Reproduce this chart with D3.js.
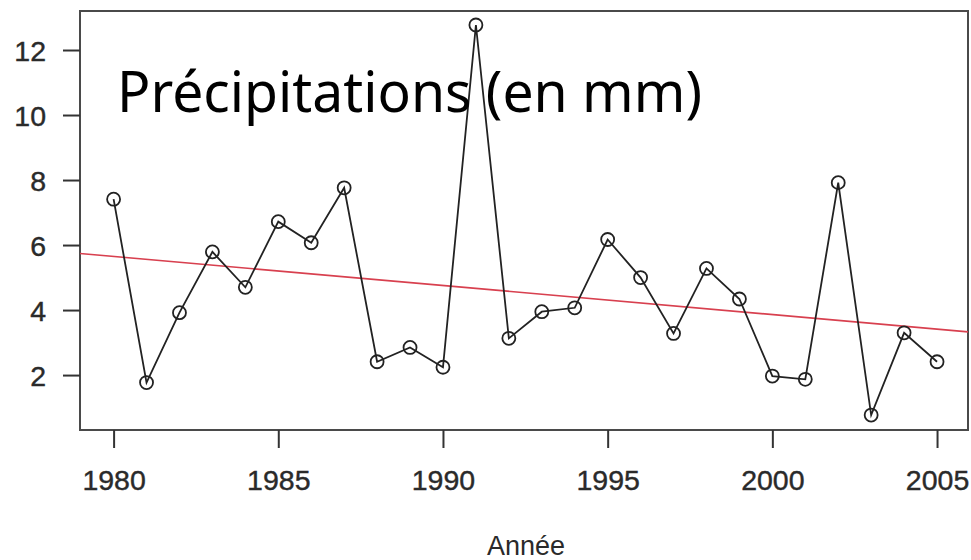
<!DOCTYPE html>
<html>
<head>
<meta charset="utf-8">
<script src="https://cdn.jsdelivr.net/npm/d3@7"></script>
<style>
  body { margin: 0; background: #fff; }
  svg { display: block; }
</style>
</head>
<body>
<svg id="chart" width="971" height="560"></svg>
<script>
// values
var years = [1980, 1981, 1982, 1983, 1984, 1985, 1986, 1987, 1988, 1989, 1990, 1991, 1992,
             1993, 1994, 1995, 1996, 1997, 1998, 1999, 2000, 2001, 2002, 2003, 2004, 2005];
var precip = [7.41, 1.77, 3.92, 5.79, 4.70, 6.72, 6.07, 7.76, 2.41, 2.85, 2.24, 12.77, 3.13,
              3.95, 4.07, 6.17, 5.00, 3.28, 5.28, 4.34, 1.97, 1.87, 7.92, 0.77, 3.30, 2.41];
var trendYears = [1978.98, 2005.94];
var trendValues = [5.74, 3.33];
var xTicks = [1980, 1985, 1990, 1995, 2000, 2005];
var yTicks = [2, 4, 6, 8, 10, 12];
var title = "Précipitations (en mm)";
var xLabel = "Année";

function drawChart() {
    var svg = d3.select("#chart");
    var mLeft = 80, mRight = 968, mTop = 11, mBottom = 430;

    var x = d3.scaleLinear().domain([1978.98, 2005.94]).range([mLeft, mRight]);
    var y = d3.scaleLinear().domain([0.31, 13.2]).range([mBottom, mTop]);

    //plot box
    svg.append("rect")
        .attr("x", mLeft).attr("y", mTop).attr("width", mRight - mLeft).attr("height", mBottom - mTop)
        .attr("fill", "none").attr("stroke", "#4a4a4a").attr("stroke-width", 2);

    //axes (R style: ticks outside, no domain)
    var yAxis = svg.append("g").attr("transform", "translate(" + mLeft + ",0)")
        .call(d3.axisLeft(y).tickValues(yTicks).tickSize(17).tickPadding(17).tickFormat(d3.format("d")));
    var xAxis = svg.append("g").attr("transform", "translate(0," + mBottom + ")")
        .call(d3.axisBottom(x).tickValues(xTicks).tickSize(18).tickPadding(22).tickFormat(d3.format("d")));

    [xAxis, yAxis].forEach(function (a) {
        a.select(".domain").remove();
        a.selectAll(".tick line").attr("stroke", "#333").attr("stroke-width", 2);
        a.selectAll(".tick text").attr("fill", "#2a2a2a")
            .attr("stroke", "#2a2a2a").attr("stroke-width", 0.4)
            .style("font-family", "'Liberation Sans', Arial, sans-serif").style("font-size", "28.5px");
    });
    yAxis.selectAll(".tick text").attr("dy", "0.36em");

    //trend line
    svg.append("line")
        .attr("x1", x(trendYears[0])).attr("y1", y(trendValues[0]))
        .attr("x2", x(trendYears[1])).attr("y2", y(trendValues[1]))
        .attr("stroke", "#d8404f").attr("stroke-width", 1.6);

    //series
    var line = d3.line().x(function (d, i) { return x(years[i]); }).y(function (d) { return y(d); });
    svg.append("path").datum(precip)
        .attr("d", line).attr("fill", "none").attr("stroke", "#222").attr("stroke-width", 1.8);

    svg.selectAll("circle.pt").data(precip).enter().append("circle")
        .attr("class", "pt")
        .attr("cx", function (d, i) { return x(years[i]); })
        .attr("cy", function (d) { return y(d); })
        .attr("r", 6.5)
        .attr("fill", "none").attr("stroke", "#222").attr("stroke-width", 1.8);

    //titles
    svg.append("text")
        .attr("x", 117).attr("y", 112)
        .attr("textLength", 585).attr("lengthAdjust", "spacingAndGlyphs")
        .style("font-family", "'Noto Sans', 'Open Sans', sans-serif").style("font-size", "56px")
        .attr("fill", "#000").text(title);

    svg.append("text")
        .attr("x", 526).attr("y", 555).attr("text-anchor", "middle")
        .style("font-family", "'Liberation Sans', Arial, sans-serif").style("font-size", "27px")
        .attr("fill", "#2a2a2a").text(xLabel);
}

drawChart();
</script>
</body>
</html>
